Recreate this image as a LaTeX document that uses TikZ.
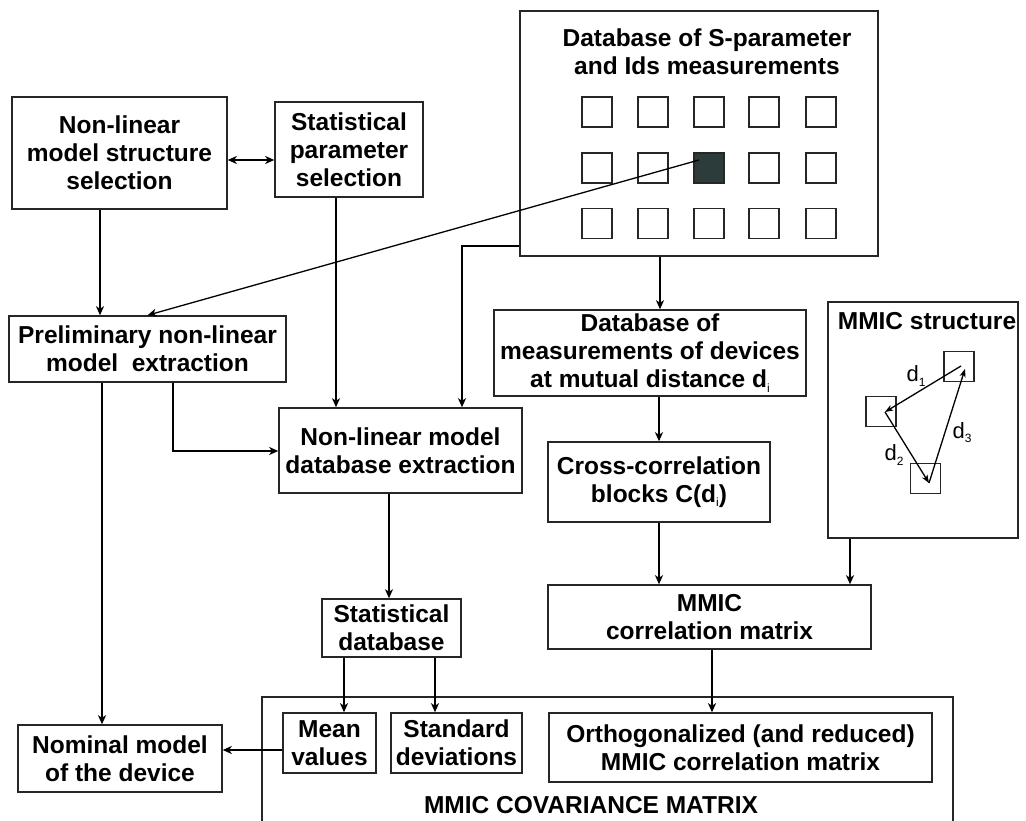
\documentclass[tikz,border=0pt]{standalone}
\usepackage{fontspec}
\setmainfont{Liberation Sans}
\usetikzlibrary{arrows.meta,positioning}
\definecolor{darkcell}{RGB}{43,60,58}
\newcommand{\dsub}[1]{\raisebox{-0.35ex}{\fontsize{12}{12}\selectfont\mdseries #1}}
\tikzset{
    %Define standard arrow tip
    >={Stealth[length=9pt,width=8pt,inset=2.5pt]},
    %Define style for boxes
    block/.style={
           rectangle,
           draw=black!85, line width=1.5pt,
           font=\fontsize{24.5}{28}\selectfont\bfseries,
           align=center,
           inner sep=0pt,
           },
    heading/.style={
           font=\fontsize{24.5}{28}\selectfont\bfseries,
           align=center,
           inner sep=0pt,
           },
    cell/.style={
           rectangle,
           draw=black!85, line width=1.2pt,
           minimum width=30pt,
           minimum height=30pt,
           inner sep=0pt,
           },
    dist/.style={
           font=\fontsize{22}{22}\selectfont,
           inner sep=0pt,
           },
    % Define arrow styles
    pil/.style={->, line width=2pt},
    pilthin/.style={->, line width=1.3pt},
    twin/.style={<->, line width=2pt},
    small/.style={-{Stealth[length=8pt,width=6pt,inset=2pt]}, line width=1.3pt},
}
\begin{document}
\begin{tikzpicture}[x=1pt,y=-1pt]
\useasboundingbox (0,0) rectangle (1026,821);
\clip (0,0) rectangle (1026,821);

 %boxes
\node[block, minimum width=215, minimum height=112] (nlsel) at (119.5,153) {Non-linear\\model structure\\selection};
\node[block, minimum width=148, minimum height=95] (statsel) at (349,149.5) {Statistical\\parameter\\selection};
\node[block, minimum width=358, minimum height=245] (db) at (699,133.5) {};
\node[heading] (dbtitle) at (707,52) {Database of S-parameter\\and Ids measurements};
\node[block, minimum width=277, minimum height=66] (prelim) at (147.5,349) {Preliminary non-linear\\model\ \ extraction};
\node[block, minimum width=243, minimum height=85] (nldb) at (400.5,450.5) {Non-linear model\\database extraction};
\node[block, minimum width=312, minimum height=86] (dbmeas) at (650,353) {Database of\\measurements of devices\\at mutual distance d\dsub{i}};
\node[block, minimum width=190, minimum height=236] (mmicstr) at (923,420) {};
\node[heading] (mmictitle) at (927,321) {MMIC structure};
\node[block, minimum width=222, minimum height=80] (cross) at (659,482) {Cross-correlation\\blocks C(d\dsub{i})};
\node[block, minimum width=323, minimum height=64] (mmiccorr) at (709.5,617) {MMIC\\correlation matrix};
\node[block, minimum width=139, minimum height=58] (statdb) at (391.5,628) {Statistical\\database};
\node[block, minimum width=691, minimum height=160] (cov) at (607.5,777) {};
\node[heading] (covtitle) at (591,805) {MMIC COVARIANCE MATRIX};
\node[block, minimum width=93, minimum height=60] (mean) at (329.5,743) {Mean\\values};
\node[block, minimum width=131, minimum height=60] (stddev) at (456.5,743) {Standard\\deviations};
\node[block, minimum width=383, minimum height=69] (ortho) at (740.5,747.5) {Orthogonalized (and reduced)\\MMIC correlation matrix};
\node[block, minimum width=204, minimum height=67] (nominal) at (120,758.5) {Nominal model\\of the device};

 %measured devices
\foreach \c/\x in {1/597,2/653,3/709,4/764,5/821}
  \foreach \r/\y in {1/112,2/168,3/223.5}
    \node[cell] (sq\r\c) at (\x,\y) {};
\node[cell, fill=darkcell] (sq23) at (709,168) {};
\coordinate (hitpt) at (699,160);

 %devices of the MMIC
\node[cell] (devA) at (959,366.5) {};
\node[cell] (devB) at (881,411.5) {};
\node[cell] (devC) at (925.5,478.5) {};
\coordinate (pa) at (961,366);
\coordinate (pb) at (885,412);
\coordinate (pc) at (929,483);
\coordinate (pa2) at (965,369);
\draw[small] (pa) -- (pb);
\draw[small] (pb) -- (pc);
\draw[small] (pc) -- (pa2);
\node[dist] (d1) at (916,376) {d\dsub{1}};
\node[dist] (d2) at (894,455) {d\dsub{2}};
\node[dist] (d3) at (962,433) {d\dsub{3}};

 %links
\draw[twin] (nlsel.east |- 0,160) -- (statsel.west |- 0,160);
\draw[pil] (nlsel.south -| 100,0) -- (prelim.north -| 100,0);
\draw[pilthin] (statsel.south -| 336,0) -- (nldb.north -| 336,0);
\draw[pilthin] (hitpt) -- (prelim.north);
\draw[pil] (db.west |- 0,246) -| (nldb.north -| 462,0);
\draw[pil] (db.south -| 660,0) -- (dbmeas.north -| 660,0);
\draw[pil] (dbmeas.south -| cross) -- (cross.north);
\draw[pil] (cross.south) -- (mmiccorr.north -| cross);
\draw[pil] (mmicstr.south -| 850,0) -- (mmiccorr.north -| 850,0);
\draw[pil] (mmiccorr.south -| 712,0) -- (ortho.north -| 712,0);
\draw[pil] (prelim.south -| 102,0) -- (nominal.north -| 102,0);
\draw[pil] (prelim.south -| 173,0) |- (nldb.west |- 0,451);
\draw[pilthin] (nldb.south -| 389,0) -- (statdb.north -| 389,0);
\draw[pil] (statdb.south -| 344,0) -- (mean.north -| 344,0);
\draw[pil] (statdb.south -| 435,0) -- (stddev.north -| 435,0);
\draw[pil] (mean.west |- 0,750) -- (nominal.east |- 0,750);

\end{tikzpicture}
\end{document}
